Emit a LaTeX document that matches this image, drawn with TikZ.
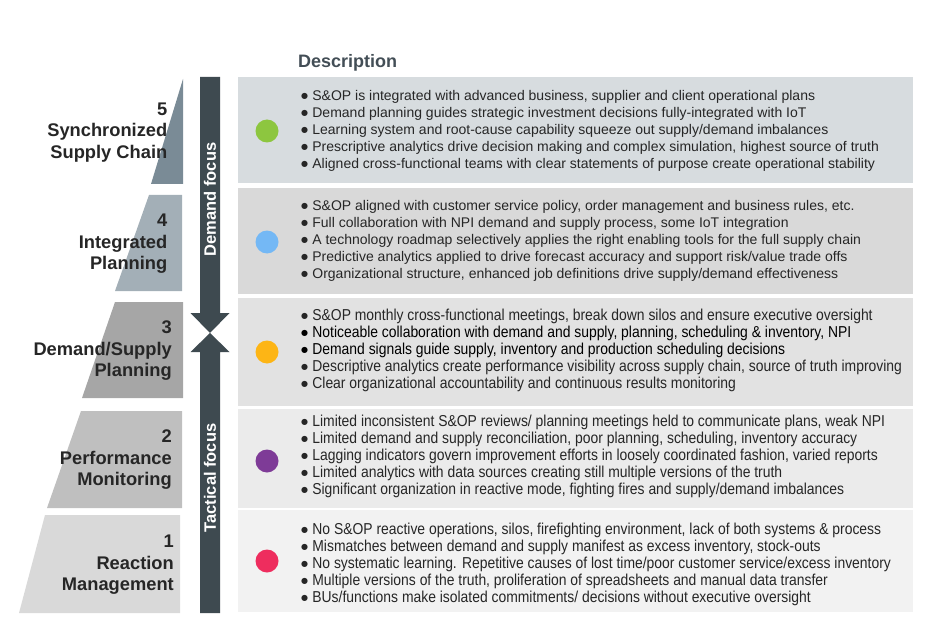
\documentclass[tikz,border=0pt]{standalone}
\usepackage{fontspec}
\setmainfont{Liberation Sans}
\newfontfamily\narrowfont[FakeStretch=0.88]{Liberation Sans}
\newfontfamily\symfont{DejaVu Sans}
\newcommand\bul{\raisebox{2pt}{\symfont\fontsize{8}{8}\selectfont ●}\hspace{4.2pt}}
\definecolor{lv5}{HTML}{7A8B96}
\definecolor{lv4}{HTML}{A3AFB7}
\definecolor{lv3}{HTML}{A6A6A6}
\definecolor{lv2}{HTML}{BFBFBF}
\definecolor{lv1}{HTML}{D9D9D9}
\definecolor{pn5}{HTML}{D7DCDF}
\definecolor{pn4}{HTML}{D9D9D9}
\definecolor{pn3}{HTML}{E2E2E2}
\definecolor{pn2}{HTML}{EBEBEB}
\definecolor{pn1}{HTML}{F2F2F2}
\definecolor{barc}{HTML}{3E4A50}
\definecolor{labc}{HTML}{262626}
\definecolor{txtc}{HTML}{262626}
\definecolor{hdc}{HTML}{434E56}
\definecolor{cgreen}{HTML}{8DC63F}
\definecolor{cblue}{HTML}{74B8F5}
\definecolor{corange}{HTML}{FDB515}
\definecolor{cpurple}{HTML}{7E3B97}
\definecolor{cpink}{HTML}{EE2D5E}
\begin{document}
\begin{tikzpicture}[x=1pt,y=-1pt,
  lvlabel/.style={font=\fontsize{18.3}{21.5}\selectfont\bfseries, text=labc, align=right, anchor=east, inner sep=0},
  vtext/.style={font=\fontsize{16.5}{18}\selectfont\bfseries, text=white, rotate=90, inner sep=0},
  dot/.style={circle, minimum size=23pt, inner sep=0},
  desc/.style={align=left, anchor=west, font=\fontsize{14}{17}\selectfont, text=txtc, inner sep=0},
  ndesc/.style={align=left, anchor=west, font=\narrowfont\fontsize{15.8}{17}\selectfont, text=txtc, inner sep=0}]
\useasboundingbox (0,0) rectangle (939,631);
% pyramid
\fill[lv5] (183,79) -- (183,184) -- (151,184) -- cycle;
\fill[lv4] (182,195) -- (182,291) -- (115,291) -- (149,195) -- cycle;
\fill[lv3] (183,302) -- (183,398) -- (82,398) -- (115,302) -- cycle;
\fill[lv2] (182,411) -- (182,508) -- (47,508) -- (81,411) -- cycle;
\fill[lv1] (180,515) -- (180,613) -- (19,613) -- (45,515) -- cycle;
\node[lvlabel] (l5) at (167.5,132.5) {5\\Synchronized\\Supply Chain};
\node[lvlabel] (l4) at (167.5,244) {4\\Integrated\\Planning};
\node[lvlabel] (l3) at (172,351) {3\\Demand/Supply\\Planning};
\node[lvlabel] (l2) at (172,460) {2\\Performance\\Monitoring};
\node[lvlabel] (l1) at (174,565) {1\\Reaction\\Management};
% arrows
\fill[barc] (200,77) -- (220,77) -- (220,313) -- (229.5,313) -- (210,333) -- (190.5,313) -- (200,313) -- cycle;
\fill[barc] (200,613) -- (220,613) -- (220,352) -- (229.5,352) -- (210,333) -- (190.5,352) -- (200,352) -- cycle;
\node[vtext] (df) at (210,199.5) {Demand focus};
\node[vtext] (tf) at (210,478) {Tactical focus};
% header
\node[font=\fontsize{18}{20}\selectfont\bfseries, text=hdc, anchor=west, inner sep=0] (hd) at (298,63) {Description};
% panels
\fill[pn5] (238,77) rectangle (913,183);
\fill[pn4] (238,188) rectangle (913,294);
\fill[pn3] (238,298) rectangle (913,406);
\fill[pn2] (238,409) rectangle (913,508);
\fill[pn1] (238,510) rectangle (913,612);
\node[dot, fill=cgreen] (c5) at (267,131) {};
\node[dot, fill=cblue] (c4) at (267,242) {};
\node[dot, fill=corange] (c3) at (267,352) {};
\node[dot, fill=cpurple] (c2) at (267,461) {};
\node[dot, fill=cpink] (c1) at (267,561) {};
\node[desc] (d5) at (301,131) {\bul S\&OP is integrated with advanced business, supplier and client operational plans\\
\bul Demand planning guides strategic investment decisions fully-integrated with IoT\\
\bul Learning system and root-cause capability squeeze out supply/demand imbalances\\
\bul Prescriptive analytics drive decision making and complex simulation, highest source of truth\\
\bul Aligned cross-functional teams with clear statements of purpose create operational stability};
\node[desc] (d4) at (301,241) {\bul S\&OP aligned with customer service policy, order management and business rules, etc.\\
\bul Full collaboration with NPI demand and supply process, some IoT integration\\
\bul A technology roadmap selectively applies the right enabling tools for the full supply chain\\
\bul Predictive analytics applied to drive forecast accuracy and support risk/value trade offs\\
\bul Organizational structure, enhanced job definitions drive supply/demand effectiveness};
\node[ndesc] (d3) at (301,350.5) {\bul S\&OP monthly cross-functional meetings, break down silos and ensure executive oversight\\
\textcolor{black}{\bul Noticeable collaboration with demand and supply, planning, scheduling \& inventory, NPI}\\
\textcolor{black}{\bul Demand signals guide supply, inventory and production scheduling decisions}\\
\bul Descriptive analytics create performance visibility across supply chain, source of truth improving\\
\bul Clear organizational accountability and continuous results monitoring};
\node[ndesc] (d2) at (301,456) {\bul Limited inconsistent S\&OP reviews/ planning meetings held to communicate plans, weak NPI\\
\bul Limited demand and supply reconciliation, poor planning, scheduling, inventory accuracy\\
\bul Lagging indicators govern improvement efforts in loosely coordinated fashion, varied reports\\
\bul Limited analytics with data sources creating still multiple versions of the truth\\
\bul Significant organization in reactive mode, fighting fires and supply/demand imbalances};
\node[ndesc] (d1) at (301,564) {\bul No S\&OP reactive operations, silos, firefighting environment, lack of both systems \& process\\
\bul Mismatches between demand and supply manifest as excess inventory, stock-outs\\
\bul No systematic learning. Repetitive causes of lost time/poor customer service/excess inventory\\
\bul Multiple versions of the truth, proliferation of spreadsheets and manual data transfer\\
\bul BUs/functions make isolated commitments/ decisions without executive oversight};
\end{tikzpicture}
\end{document}
